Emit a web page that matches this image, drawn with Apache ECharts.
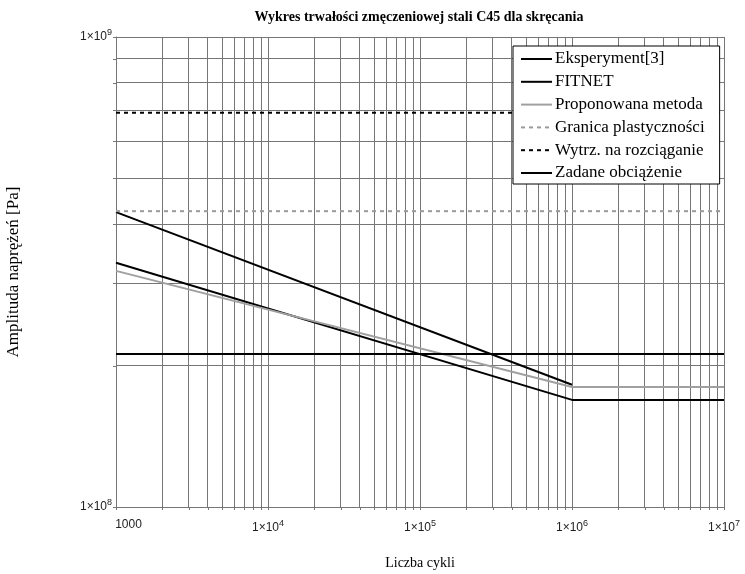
<!DOCTYPE html>
<html>
<head>
<meta charset="utf-8">
<script src="https://cdn.jsdelivr.net/npm/echarts@6/dist/echarts.min.js"></script>
<style>
  html, body { margin: 0; padding: 0; background: #fff; }
  #chart { width: 745px; height: 574px; }
</style>
</head>
<body>
<div id="chart"></div>
<script>
// Fatigue life (S-N) curves for C45 steel in torsion
const cyclesSpan = [1e3, 1e7];
const cyclesKnee = [1e3, 1e6, 1e7];
const cyclesExp = [1e3, 1e6];

const eksperyment = [4.24e8, 1.82e8];
const fitnet = [3.31e8, 1.69e8, 1.69e8];
const proponowana = [3.18e8, 1.80e8, 1.80e8];
const granicaPlast = [4.26e8, 4.26e8];
const wytrzRozc = [6.90e8, 6.90e8];
const zadane = [2.115e8, 2.115e8];

const xTickLabels = { 1000: '{first|1000}', 10000: '1×10{s|4}', 100000: '1×10{s|5}', 1000000: '1×10{s|6}', 10000000: '1×10{s|7}' };
const yTickLabels = { 100000000: '1×10{s|8}', 1000000000: '1×10{s|9}' };

const seriesNames = ['Eksperyment[3]', 'FITNET', 'Proponowana metoda', 'Granica plastyczności', 'Wytrz. na rozciąganie', 'Zadane obciążenie'];

// intermediate decade lines (2..9 × 10^n)
const mult = [2, 3, 4, 5, 6, 7, 8, 9];
const xMinor = [];
[1e3, 1e4, 1e5, 1e6].forEach(d => mult.forEach(m => xMinor.push(m * d)));
const yMinor = mult.map(m => m * 1e8);

const pairs = (xs, ys) => xs.map((x, i) => [x, ys[i]]);

const gridGray = '#767676';
const serif = '"Liberation Serif", "Times New Roman", serif';
const sans = '"Liberation Sans", Arial, sans-serif';

const labelRich = {
  s: { fontSize: 9, fontFamily: sans, color: '#222', verticalAlign: 'top', padding: [0, 0, 8, 0] },
  first: { fontSize: 12, fontFamily: sans, color: '#222', padding: [0, 0, 0, 25] }
};

const lineSeries = (name, data, color, type, width) => ({
  name, type: 'line', data, symbol: 'none', z: 3,
  lineStyle: { color, width, type },
  itemStyle: { color },
  emphasis: { disabled: true }, silent: true, animation: false
});

const grid = { left: 116, right: 21, top: 37, bottom: 67 };

const chart = echarts.init(document.getElementById('chart'), null, { renderer: 'canvas' });
chart.setOption({
  animation: false,
  backgroundColor: '#fff',
  title: {
    text: 'Wykres trwałości zmęczeniowej stali C45 dla skręcania',
    left: 414, top: 5, textAlign: 'center',
    textStyle: { fontFamily: serif, fontWeight: 'bold', fontSize: 14, color: '#000' }
  },
  legend: {
    data: seriesNames,
    orient: 'vertical',
    left: 513, top: 46,
    padding: [4.5, 15, 2.5, 7],
    itemWidth: 31, itemHeight: 12, itemGap: 5.8,
    itemStyle: { opacity: 0 },
    backgroundColor: '#fff', borderColor: '#000', borderWidth: 1,
    selectedMode: false,
    textStyle: { fontFamily: serif, fontSize: 17, lineHeight: 17, color: '#000', padding: [0, 0, 0, -2] },
    z: 10
  },
  grid: Object.assign({ containLabel: false, outerBoundsMode: 'none' }, grid),
  xAxis: {
    type: 'log', logBase: 10, min: 1e3, max: 1e7,
    name: 'Liczba cykli', nameLocation: 'middle', nameGap: 49,
    nameTextStyle: { fontFamily: serif, fontSize: 14, color: '#000' },
    axisLine: { show: true, lineStyle: { color: gridGray, width: 1 } },
    axisTick: { show: true, length: 3, lineStyle: { color: gridGray } },
    splitLine: { show: true, lineStyle: { color: gridGray, width: 1 } },
    axisLabel: {
      margin: 12,
      fontFamily: sans, fontSize: 12, color: '#222',
      formatter: v => xTickLabels[Math.round(v)] || '',
      rich: labelRich
    }
  },
  yAxis: {
    type: 'log', logBase: 10, min: 1e8, max: 1e9,
    name: 'Amplituda naprężeń [Pa]', nameLocation: 'middle', nameGap: 94, nameRotate: 90,
    nameTextStyle: { fontFamily: serif, fontSize: 17, color: '#000' },
    axisLine: { show: true, lineStyle: { color: gridGray, width: 1 } },
    axisTick: { show: true, length: 3, lineStyle: { color: gridGray } },
    splitLine: { show: true, lineStyle: { color: gridGray, width: 1 } },
    axisLabel: {
      margin: 4,
      fontFamily: sans, fontSize: 12, color: '#222',
      formatter: v => yTickLabels[Math.round(v)] || '',
      rich: labelRich
    }
  },
  series: [
    {
      name: 'siatka', type: 'line', data: [], silent: true, animation: false,
      markLine: {
        silent: true, symbol: 'none', z: 1, animation: false,
        label: { show: false },
        lineStyle: { color: gridGray, width: 1, type: 'solid' },
        data: xMinor.map(v => ({ xAxis: v })).concat(yMinor.map(v => ({ yAxis: v })))
      }
    },
    lineSeries(seriesNames[0], pairs(cyclesExp, eksperyment), '#000', 'solid', 2),
    lineSeries(seriesNames[1], pairs(cyclesKnee, fitnet), '#000', 'solid', 2),
    lineSeries(seriesNames[2], pairs(cyclesKnee, proponowana), '#a0a0a0', 'solid', 2),
    lineSeries(seriesNames[3], pairs(cyclesSpan, granicaPlast), '#9a9a9a', [4, 4], 2),
    lineSeries(seriesNames[4], pairs(cyclesSpan, wytrzRozc), '#000', [4, 4], 2),
    lineSeries(seriesNames[5], pairs(cyclesSpan, zadane), '#000', 'solid', 2)
  ]
});

// short outward ticks for the intermediate grid lines
const H = chart.getHeight();
const bottomY = H - grid.bottom;
const ticks = [];
xMinor.forEach(v => {
  const x = Math.round(chart.convertToPixel({ xAxisIndex: 0 }, v)) + 0.5;
  ticks.push({ type: 'line', silent: true, shape: { x1: x, y1: bottomY, x2: x, y2: bottomY + 3 }, style: { stroke: gridGray, lineWidth: 1 } });
});
yMinor.forEach(v => {
  const y = Math.round(chart.convertToPixel({ yAxisIndex: 0 }, v)) + 0.5;
  ticks.push({ type: 'line', silent: true, shape: { x1: grid.left - 3, y1: y, x2: grid.left, y2: y }, style: { stroke: gridGray, lineWidth: 1 } });
});
chart.setOption({ graphic: ticks });
</script>
</body>
</html>
